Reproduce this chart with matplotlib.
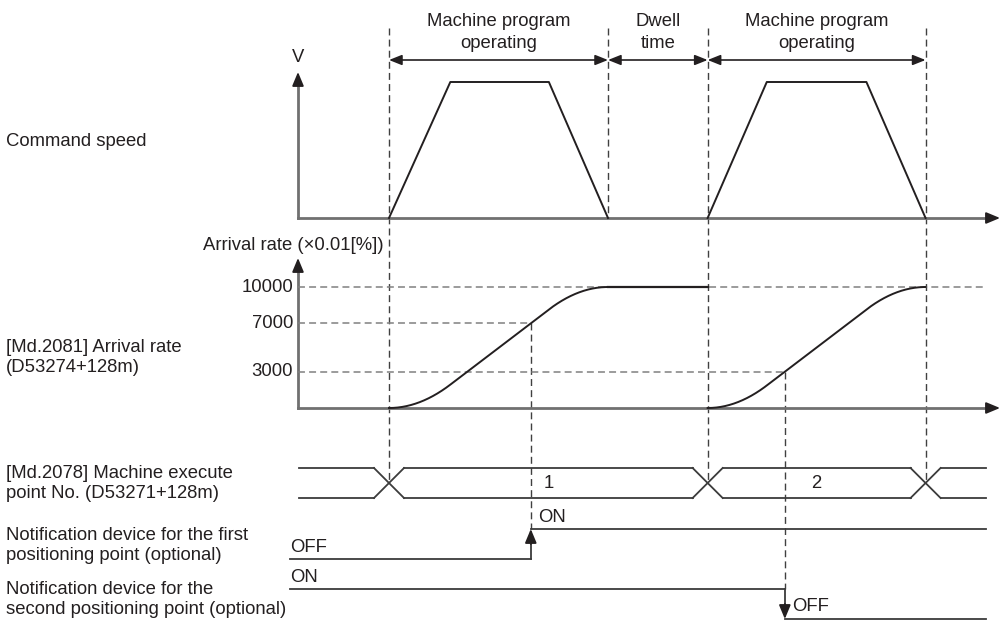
import numpy as np
import matplotlib
matplotlib.use("Agg")
import matplotlib.pyplot as plt

# ---------------- data ----------------
W, H = 1004, 627
phase_labels = [["Machine program", "operating"], ["Dwell", "time"], ["Machine program", "operating"]]
phase_edges = [0.0, 10.0, 14.55, 24.5]          # prog1 start, prog1 end, prog2 start, prog2 end
speed_t = [0.0, 2.8, 7.3, 10.0, 14.55, 17.25, 21.8, 24.5]
speed_v = [0.0, 1.0, 1.0, 0.0, 0.0, 1.0, 1.0, 0.0]
rate_max = 10000
rate_ticks = [10000, 7000, 3000]
notify_levels = [7000, 3000]                    # first point (program 1), second point (program 2)
point_numbers = ["1", "2"]
crossing_t = [0.0, 14.55, 24.5]
row_labels = [
    ["Command speed"],
    ["[Md.2081] Arrival rate", "(D53274+128m)"],
    ["[Md.2078] Machine execute", "point No. (D53271+128m)"],
    ["Notification device for the first", "positioning point (optional)"],
    ["Notification device for the", "second positioning point (optional)"],
]

# ---------------- style ----------------
plt.rcParams["font.family"] = ["Liberation Sans", "DejaVu Sans"]
plt.rcParams["lines.scale_dashes"] = False
FS = 13.3
AXC = "#707070"
LC = "#231f20"
SC = "#3c3c3c"
VD = "#404040"
HD = "#808080"
DASH = (0, (5, 3))

PX0, PXU = 389.0, 21.9            # pixel of t=0, pixels per time unit
def tpx(px):
    return (px - PX0) / PXU
xlim = (tpx(0), tpx(W))
t_axis0 = tpx(298)
t_axis_end = tpx(1000)
t_sig0 = tpx(290)
t_sig_end = tpx(986)
t_exe0 = tpx(299)

fig = plt.figure(figsize=(W / 100, H / 100), dpi=100)

def band(v_a, y_a, v_b, y_b):
    ax = fig.add_axes([0, 0, 1, 1])
    ax.set_xlim(*xlim)
    fa, fb = 1 - y_a / H, 1 - y_b / H
    k = (v_b - v_a) / (fb - fa)
    ax.set_ylim(v_a - fa * k, v_a + (1 - fa) * k)
    ax.axis("off")
    ax.patch.set_alpha(0)
    return ax

lay = band(H, H, 0, 0)                 # layout axes: y in pixel rows
ax_v = band(0, 218, 1, 82)
ax_r = band(0, 408, rate_max, 287)
ax_e = band(0, 498, 1, 468)
ax_n1 = band(0, 559, 1, 529)
ax_n2 = band(0, 619, 1, 589)

def row(ax, v):
    return H - ax.transData.transform((0, v))[1]

def head(ax, p_from, p_to, color=LC, hl=0.6, hw=0.25, ms=14):
    ax.annotate("", xy=p_to, xytext=p_from,
                arrowprops=dict(arrowstyle=f"-|>,head_length={hl},head_width={hw}",
                                color=color, lw=1.3, shrinkA=0, shrinkB=0, mutation_scale=ms),
                annotation_clip=False, zorder=5)

def txt(ax, x, y, s, **kw):
    kw.setdefault("fontsize", FS)
    kw.setdefault("color", "#231f20")
    ax.text(x, y, s, clip_on=False, **kw)

# ---------------- left labels ----------------
label_rows = [[142], [348, 368], [474, 494], [536, 556], [589, 609]]
for lines, rows in zip(row_labels, label_rows):
    for s, r in zip(lines, rows):
        txt(lay, tpx(6), r, s, ha="left", va="center")

# ---------------- top phase annotations ----------------
for i, lab in enumerate(phase_labels):
    a, b = phase_edges[i], phase_edges[i + 1]
    m = (a + b) / 2
    txt(lay, m, 22, lab[0], ha="center", va="center")
    txt(lay, m, 44, lab[1], ha="center", va="center")
    lay.annotate("", xy=(b, 60), xytext=(a, 60),
                 arrowprops=dict(arrowstyle="<|-|>,head_length=0.55,head_width=0.22",
                                 color=LC, lw=1.2, shrinkA=0, shrinkB=0, mutation_scale=14),
                 annotation_clip=False)

# vertical dashed phase boundaries
y_cross = row(ax_e, 0.5)
for t in phase_edges:
    bottom = row(ax_v, 0) if t == phase_edges[1] else y_cross
    lay.plot([t, t], [28, bottom], color=VD, lw=1.0, linestyle=DASH, zorder=1)

# ---------------- command speed ----------------
ax_v.plot(speed_t[:4], speed_v[:4], color=LC, lw=1.4, zorder=3)
ax_v.plot(speed_t[4:], speed_v[4:], color=LC, lw=1.4, zorder=3)
y0v = row(ax_v, 0)
lay.plot([t_axis0, t_axis_end - 0.3], [y0v, y0v], color=AXC, lw=2.0, zorder=4)
head(lay, (t_axis_end - 0.5, y0v), (t_axis_end, y0v))
lay.plot([t_axis0, t_axis0], [y0v, 80], color=AXC, lw=2.0, zorder=4)
head(lay, (t_axis0, 84), (t_axis0, 72))
txt(lay, t_axis0, 58, "V", ha="center", va="center")

# ---------------- arrival rate ----------------
def arrival(t_a, t_b):
    tt = np.linspace(t_a, t_b, 400)
    vv = np.interp(tt, speed_t, speed_v)
    cum = np.concatenate([[0.0], np.cumsum((vv[1:] + vv[:-1]) / 2 * np.diff(tt))])
    return tt, cum / cum[-1] * rate_max

t1, r1 = arrival(phase_edges[0], phase_edges[1])
t2, r2 = arrival(phase_edges[2], phase_edges[3])
ax_r.plot(t1, r1, color=LC, lw=1.4, zorder=3)
ax_r.plot([phase_edges[1], phase_edges[2]], [rate_max, rate_max], color=LC, lw=1.6, zorder=3)
ax_r.plot(t2, r2, color=LC, lw=1.4, zorder=3)
t_n1 = float(np.interp(notify_levels[0], r1, t1))
t_n2 = float(np.interp(notify_levels[1], r2, t2))

y0r = row(ax_r, 0)
lay.plot([t_axis0, t_axis_end - 0.3], [y0r, y0r], color=AXC, lw=2.0, zorder=4)
head(lay, (t_axis_end - 0.5, y0r), (t_axis_end, y0r))
lay.plot([t_axis0, t_axis0], [y0r, 266], color=AXC, lw=2.0, zorder=4)
head(lay, (t_axis0, 270), (t_axis0, 258))
txt(lay, tpx(384), 246, "Arrival rate (\u00d70.01[%])", ha="right", va="center")

h_ends = [t_sig_end, t_n1, t_n2]
for r, te in zip(rate_ticks, h_ends):
    ax_r.plot([t_axis0, te], [r, r], color=HD, lw=1.1, linestyle=DASH, zorder=2)
    txt(ax_r, tpx(293), r, f"{r}", ha="right", va="center")

# ---------------- machine execute point No. ----------------
hx = 15 / PXU
bounds = [t_exe0] + [v for c in crossing_t for v in (c - hx, c + hx)] + [t_sig_end]
for a, b in zip(bounds[0::2], bounds[1::2]):
    ax_e.plot([a, b], [1, 1], color=SC, lw=1.3)
    ax_e.plot([a, b], [0, 0], color=SC, lw=1.3)
for c in crossing_t:
    ax_e.plot([c - hx, c + hx], [1, 0], color=SC, lw=1.3)
    ax_e.plot([c - hx, c + hx], [0, 1], color=SC, lw=1.3)
for i, s in enumerate(point_numbers):
    m = (crossing_t[i] + crossing_t[i + 1]) / 2
    txt(ax_e, m, 0.5, s, ha="center", va="center")

# ---------------- notification devices ----------------
ax_n1.plot([t_sig0, t_n1], [0, 0], color=SC, lw=1.3)
ax_n1.plot([t_n1, t_n1], [0, 0.6], color=SC, lw=1.3)
head(ax_n1, (t_n1, 0.5), (t_n1, 1.0))
ax_n1.plot([t_n1, t_sig_end], [1, 1], color=SC, lw=1.3)
txt(ax_n1, t_sig0, 0.37, "OFF", ha="left", va="center")
txt(ax_n1, t_n1 + 0.33, 1.4, "ON", ha="left", va="center")
lay.plot([t_n1, t_n1], [row(ax_r, notify_levels[0]), row(ax_n1, 1)], color=VD, lw=1.0,
         linestyle=DASH, zorder=1)

ax_n2.plot([t_sig0, t_n2], [1, 1], color=SC, lw=1.3)
ax_n2.plot([t_n2, t_n2], [1, 0.4], color=SC, lw=1.3)
head(ax_n2, (t_n2, 0.5), (t_n2, 0.0))
ax_n2.plot([t_n2, t_sig_end], [0, 0], color=SC, lw=1.3)
txt(ax_n2, t_sig0, 1.4, "ON", ha="left", va="center")
txt(ax_n2, t_n2 + 0.33, 0.43, "OFF", ha="left", va="center")
lay.plot([t_n2, t_n2], [row(ax_r, notify_levels[1]), row(ax_n2, 1)], color=VD, lw=1.0,
         linestyle=DASH, zorder=1)

fig.savefig("out.png", dpi=100)
